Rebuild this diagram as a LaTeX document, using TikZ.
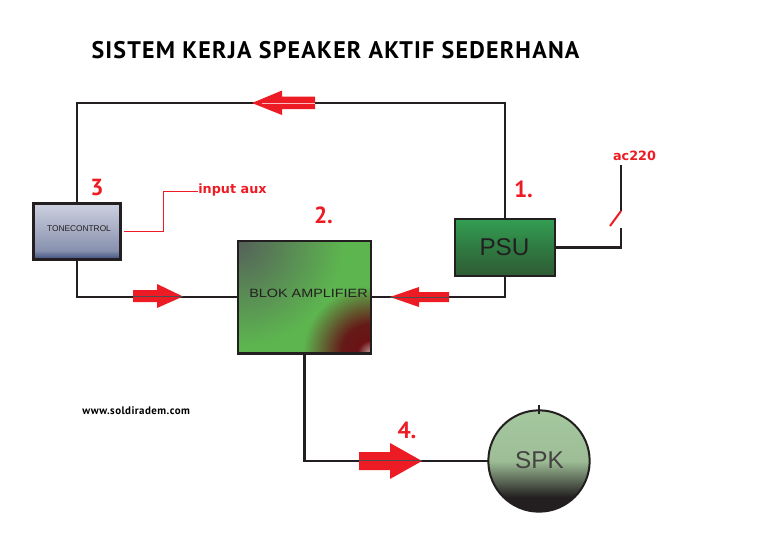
\documentclass[tikz,border=0pt]{standalone}
\usepackage{fontspec}
\setmainfont{Liberation Sans}
\newfontfamily\titlefont[LetterSpace=5]{PT Sans}
\newfontfamily\numfont{PT Sans}
\newfontfamily\webfont[LetterSpace=4]{PT Sans}
\newfontfamily\redfont{DejaVu Sans}
\newfontfamily\widefont[FakeStretch=1.2]{Liberation Sans}
\usetikzlibrary{calc}
\definecolor{ink}{HTML}{231F20}
\definecolor{arrowred}{HTML}{ED1C24}
\definecolor{ampgreen}{HTML}{5DB54F}
\definecolor{ampdark0}{HTML}{55605A}
\definecolor{ampa}{HTML}{C9A9A9}
\definecolor{ampb}{HTML}{6B1215}
\definecolor{ampc}{HTML}{651A18}
\definecolor{psub}{HTML}{2F5B34}
\definecolor{psum}{HTML}{2F7A42}
\definecolor{psut}{HTML}{339E52}
\definecolor{toneb}{HTML}{3A4A7C}
\definecolor{tonem}{HTML}{8791AE}
\definecolor{tonet}{HTML}{CDD0DF}
\definecolor{spkm}{HTML}{9DBD96}
\definecolor{spkt}{HTML}{A5C89F}
\pgfdeclareradialshading{ampdark}{\pgfpoint{0bp}{0bp}}{color(0bp)=(ampdark0);color(25bp)=(ampgreen);color(50bp)=(ampgreen)}
\pgfdeclareradialshading{amprust}{\pgfpoint{0bp}{0bp}}{%
 color(0bp)=(ampa);color(5bp)=(ampb);color(11bp)=(ampc);color(25bp)=(ampgreen);color(50bp)=(ampgreen)}
\pgfdeclareverticalshading{psushade}{100bp}{color(0bp)=(psub);color(25bp)=(psub);color(50bp)=(psum);color(75bp)=(psut);color(100bp)=(psut)}
\pgfdeclareverticalshading{toneshade}{100bp}{color(0bp)=(toneb);color(25bp)=(toneb);color(33bp)=(tonem);color(75bp)=(tonet);color(100bp)=(tonet)}
\pgfdeclareverticalshading{spkshade}{100bp}{color(0bp)=(ink);color(32bp)=(ink);color(50bp)=(spkm);color(75bp)=(spkt);color(100bp)=(spkt)}
\tikzset{
  wire/.style={draw=ink,line width=1.6pt},
  blockbox/.style={draw=ink,line width=2pt,inner sep=0pt,outer sep=0pt,anchor=north west},
  number/.style={text=arrowred,inner sep=0pt,font=\numfont\bfseries\fontsize{17.5}{20}\selectfont},
  redlabel/.style={text=arrowred,font=\redfont\bfseries\fontsize{9.6}{12}\selectfont,inner sep=0pt},
  flow/.style={fill=arrowred,draw=none},
  flowline/.style={draw=ink!80,line width=0.6pt},
}
\begin{document}
\begin{tikzpicture}[x=0.75pt,y=-0.75pt]
\useasboundingbox (0,0) rectangle (758,557);
% title and plain labels
\node[anchor=center,inner sep=0pt,font=\titlefont\bfseries\fontsize{18}{20}\selectfont,text=black] (title) at (335.5,50) {SISTEM KERJA SPEAKER AKTIF SEDERHANA};
\node[anchor=west,inner sep=0pt,font=\webfont\bfseries\fontsize{8.2}{9}\selectfont] (web) at (82,411) {www.soldiradem.com};
% named points
\coordinate (topline) at (300,103);
\coordinate (acfeed) at (621,165);
\coordinate (swtop) at (621,211);
\coordinate (swtip) at (610,226);
\coordinate (swbot) at (621,228);
\coordinate (auxa) at (163,231);
\coordinate (auxb) at (163,191);
% blocks
\node[blockbox,minimum width=65.25pt,minimum height=42pt,shading=toneshade] (tone) at (33.5,203.5) {};
\node[font=\fontsize{6.25}{7}\selectfont,text=ink,inner sep=0pt] (tonetext) at (79,228.5) {TONECONTROL};
\node[blockbox,minimum width=99.75pt,minimum height=84.5pt,fill=ampgreen] (amp) at (238,241) {};
\begin{scope}
  \clip (amp.north west) rectangle (amp.south east);
  \shade[shading=ampdark] (amp.north west) circle[radius=105];
  \shade[shading=amprust] (amp.south east) circle[radius=68];
\end{scope}
\draw[ink,line width=2pt] (amp.north west) rectangle (amp.south east);
\node[font=\widefont\fontsize{9}{10}\selectfont,text=ink,inner sep=0pt] (amptext) at (308.5,293) {BLOK AMPLIFIER};
\node[blockbox,minimum width=75pt,minimum height=42.75pt,shading=psushade] (psu) at (455,219) {};
\node[font=\fontsize{18.2}{20}\selectfont,text=ink,inner sep=0pt] (psutext) at (504.5,247) {PSU};
\node[circle,draw=ink,line width=1.5pt,outer sep=0pt,minimum size=76pt,inner sep=0pt,shading=spkshade] (spk) at (539,461) {};
\node[font=\fontsize{18.2}{20}\selectfont,text=ink!85,inner sep=0pt] (spktext) at (539.5,460) {SPK};
% connectors
\draw[wire] (psu.north) |- (topline) -| (tone.north);
\draw[wire] (tone.south) |- (amp.west);
\draw[wire] (psu.south) |- (amp.east);
\draw[wire] (amp.south) |- (spk.west);
\draw[wire] (psu.east) -| (swbot);
\draw[wire] (acfeed) -- (swtop);
\draw[arrowred,line width=1.5pt] (swtop) -- (swtip);
\draw[ink,line width=0.9pt] (spk.north) ++(0,-5) -- ++(0,9);
% red flow arrows
\fill[flow] (252,103) -- (282,90.5) -- (282,96.5) -- (315,96.5) -- (315,109) -- (282,109) -- (282,115) -- cycle;
\fill[flow] (183,296.5) -- (157,284) -- (157,290) -- (133,290) -- (133,302) -- (157,302) -- (157,308) -- cycle;
\fill[flow] (390,297) -- (419,287) -- (419,292) -- (449,292) -- (449,302) -- (419,302) -- (419,307) -- cycle;
\fill[flow] (422,461) -- (390,443) -- (390,452) -- (359,452) -- (359,470) -- (390,470) -- (390,479) -- cycle;
\draw[white!70!arrowred,line width=0.6pt] (262,103) -- (315,103);
\draw[flowline] (133,296.7) -- (183,296.7);
\draw[flowline] (390,297) -- (449,297);
\draw[flowline] (359,460.5) -- (422,460.5);
% numbers
\node[number] (nthree) at (97,187) {3};
\node[number] (none) at (523.5,189) {1.};
\node[number] (ntwo) at (323.5,215) {2.};
\node[number] (nfour) at (407,430) {4.};
% red labels
\node[redlabel,anchor=west] (aux) at (198,189.5) {input aux};
\draw[arrowred,line width=0.6pt] (tone.east |- auxa) ++(3,0) -- (auxa) -- (auxb) -- (aux.west |- auxb);
\node[redlabel,anchor=center] (ac) at (634.5,155.5) {ac220};
\end{tikzpicture}
\end{document}
